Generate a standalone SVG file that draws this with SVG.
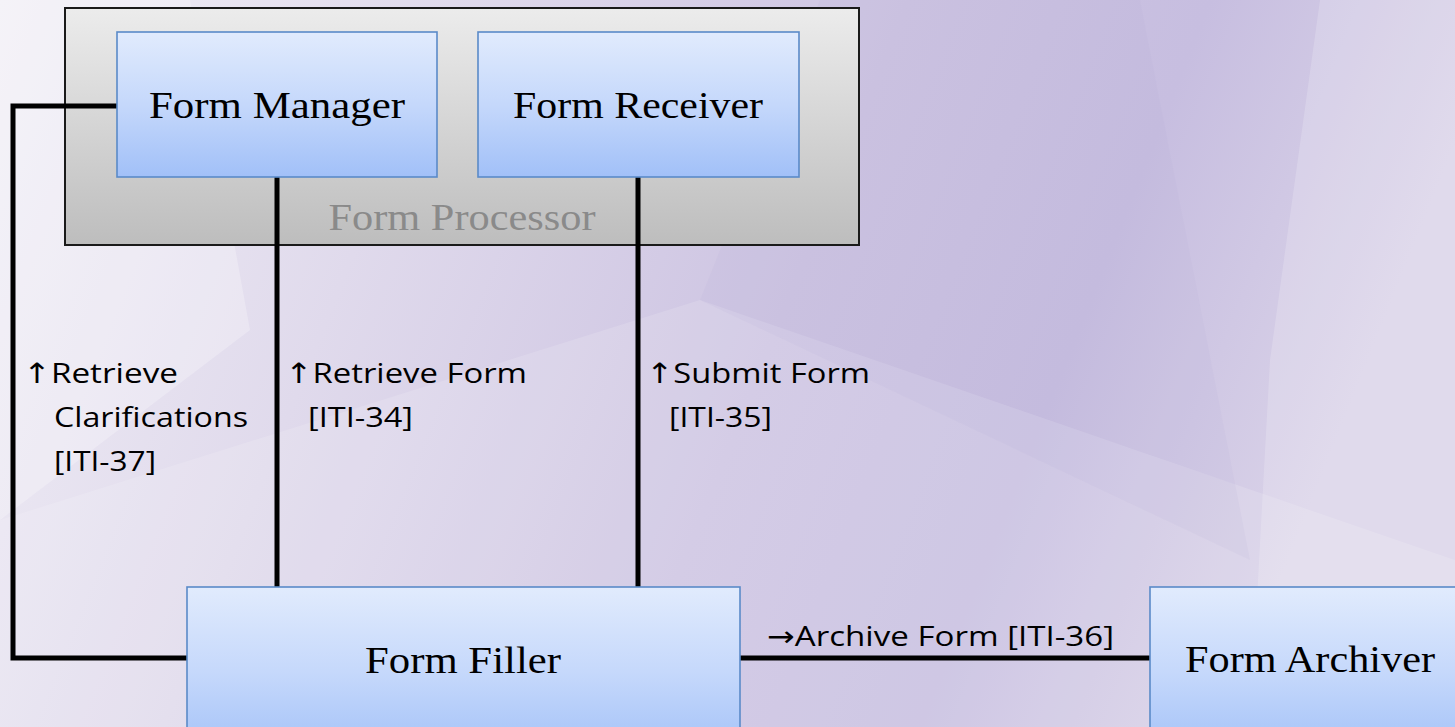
<svg xmlns="http://www.w3.org/2000/svg" width="1455" height="727" viewBox="0 0 1455 727">
<defs>
<linearGradient id="bg" x1="0" y1="0" x2="1" y2="0.2">
<stop offset="0" stop-color="#f1eff6"/>
<stop offset="0.3" stop-color="#e0daec"/>
<stop offset="0.6" stop-color="#cdc4e2"/>
<stop offset="0.8" stop-color="#c7bee0"/>
<stop offset="1" stop-color="#d9d2e8"/>
</linearGradient>
<linearGradient id="grey" x1="0" y1="0" x2="0" y2="1">
<stop offset="0" stop-color="#ececec"/>
<stop offset="1" stop-color="#bdbdbd"/>
</linearGradient>
<linearGradient id="blue" x1="0" y1="0" x2="0" y2="1">
<stop offset="0" stop-color="#e1ebfd"/>
<stop offset="0.5" stop-color="#c5d8fb"/>
<stop offset="1" stop-color="#a1c0f8"/>
</linearGradient>
<linearGradient id="blueTall" x1="0" y1="587" x2="0" y2="760" gradientUnits="userSpaceOnUse">
<stop offset="0" stop-color="#e1ebfd"/>
<stop offset="0.5" stop-color="#c5d8fb"/>
<stop offset="1" stop-color="#a1c0f8"/>
</linearGradient>
<style>
.box{stroke:#5a8ac8;stroke-width:1.6}
.serif{font-family:"Liberation Serif","DejaVu Serif",serif;font-size:38px;fill:#000;text-anchor:middle}
.sans{font-family:"Open Sans","DejaVu Sans",sans-serif;font-size:28px;fill:#000}
.wire{fill:none;stroke:#000;stroke-width:5}
</style>
</defs>

<!-- background -->
<rect x="0" y="0" width="1455" height="727" fill="url(#bg)"/>
<polygon points="0,0 190,0 250,330 0,520" fill="#ffffff" opacity="0.25"/>
<polygon points="0,520 700,300 1455,560 1455,727 0,727" fill="#ffffff" opacity="0.14"/>
<polygon points="820,0 1140,0 1250,560 700,300" fill="#b6aad6" opacity="0.12"/>
<polygon points="1320,0 1455,0 1455,727 1250,727 1270,360" fill="#ffffff" opacity="0.18"/>

<!-- container -->
<g id="form-processor">
<rect x="65" y="8" width="794" height="237" fill="url(#grey)" stroke="#1a1a1a" stroke-width="2"/>
<text x="462" y="230" class="serif" style="fill:#8a8a8a" textLength="267" lengthAdjust="spacingAndGlyphs">Form Processor</text>
</g>

<!-- connectors -->
<g id="connectors">
<polyline class="wire" points="117,106 13,106 13,658 187,658"/>
<line class="wire" x1="277" y1="177" x2="277" y2="587"/>
<line class="wire" x1="638" y1="177" x2="638" y2="587"/>
<line class="wire" x1="740" y1="658" x2="1150" y2="658"/>
<text class="sans" x="23" y="383" textLength="155" lengthAdjust="spacingAndGlyphs">↑Retrieve</text>
<text class="sans" x="54" y="427" textLength="194" lengthAdjust="spacingAndGlyphs">Clarifications</text>
<text class="sans" x="54" y="471" textLength="102" lengthAdjust="spacingAndGlyphs">[ITI-37]</text>
<text class="sans" x="285" y="383" textLength="242" lengthAdjust="spacingAndGlyphs">↑Retrieve Form</text>
<text class="sans" x="308" y="427" textLength="105" lengthAdjust="spacingAndGlyphs">[ITI-34]</text>
<text class="sans" x="646" y="383" textLength="224" lengthAdjust="spacingAndGlyphs">↑Submit Form</text>
<text class="sans" x="669" y="427" textLength="103" lengthAdjust="spacingAndGlyphs">[ITI-35]</text>
<text class="sans" x="767" y="646" textLength="347" lengthAdjust="spacingAndGlyphs">→Archive Form [ITI-36]</text>
</g>

<g id="form-manager">
<rect class="box" x="117" y="32" width="320" height="145" fill="url(#blue)"/>
<text class="serif" x="277" y="118" textLength="256" lengthAdjust="spacingAndGlyphs">Form Manager</text>
</g>

<g id="form-receiver">
<rect class="box" x="478" y="32" width="321" height="145" fill="url(#blue)"/>
<text class="serif" x="638" y="118" textLength="250" lengthAdjust="spacingAndGlyphs">Form Receiver</text>
</g>

<g id="form-filler">
<rect class="box" x="187" y="587" width="553" height="160" fill="url(#blueTall)"/>
<text class="serif" x="463" y="673" textLength="196" lengthAdjust="spacingAndGlyphs">Form Filler</text>
</g>

<g id="form-archiver">
<rect class="box" x="1150" y="587" width="320" height="160" fill="url(#blueTall)"/>
<text class="serif" x="1310" y="672" textLength="250" lengthAdjust="spacingAndGlyphs">Form Archiver</text>
</g>
</svg>
